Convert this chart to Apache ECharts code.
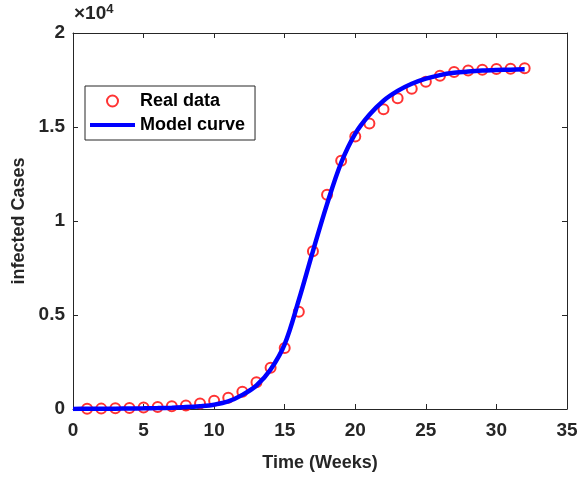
<!DOCTYPE html>
<html>
<head>
<meta charset="utf-8">
<script src="https://cdn.jsdelivr.net/npm/echarts@6/dist/echarts.min.js"></script>
<style>
  html, body { margin: 0; padding: 0; background: #fff; }
  #chart { width: 583px; height: 477px; }
</style>
</head>
<body>
<div id="chart"></div>
<script>
// observed weekly cases
const weeks = [1, 2, 3, 4, 5, 6, 7, 8, 9, 10, 11, 12, 13, 14, 15, 16,
  17, 18, 19, 20, 21, 22, 23, 24, 25, 26, 27, 28, 29, 30, 31, 32]
const realCases = [10, 20, 35, 55, 80, 110, 150, 190, 290, 440, 600, 915,
  1425, 2200, 3250, 5170, 8390, 11400, 13210, 14500, 15180, 15940, 16530,
  17030, 17410, 17730, 17930, 18010, 18050, 18080, 18100, 18120]

// fitted model curve, read at each week
const modelWeeks = [0, 1, 2, 3, 4, 5, 6, 7, 8, 9, 10, 11, 12, 13, 14, 15, 16,
  17, 18, 19, 20, 21, 22, 23, 24, 25, 26, 27, 28, 29, 30, 31, 32]
const modelCases = [5, 8, 12, 18, 25, 35, 50, 70, 100, 150, 230, 400, 750,
  1250, 2100, 3450, 5800, 8400, 10900, 13100, 14650, 15650, 16400, 16920,
  17300, 17570, 17760, 17880, 17950, 18000, 18030, 18050, 18070]

const xTicks = [0, 5, 10, 15, 20, 25, 30, 35]
const yTicks = [0, 0.5, 1, 1.5, 2]   // in units of 10^4

const axisColor = '#262626'
const fontFamily = '"Liberation Sans", Arial, sans-serif'

const chart = echarts.init(document.getElementById('chart'))

const frameAxis = {
  axisLine: { show: true, onZero: false, lineStyle: { color: axisColor, width: 1 } },
  axisTick: { show: true, inside: true, length: 5, lineStyle: { color: axisColor } },
  splitLine: { show: false }
}

const option = {
  animation: false,
  textStyle: { fontFamily },
  grid: { left: 73, right: 16, top: 33, bottom: 65 },
  legend: {
    left: 85,
    top: 86,
    orient: 'vertical',
    padding: [6, 10, 6, 5],
    itemGap: 6,
    itemWidth: 45,
    itemHeight: 11,
    borderColor: axisColor,
    borderWidth: 1,
    backgroundColor: '#fff',
    textStyle: { fontSize: 18, fontWeight: 'bold', color: '#000', fontFamily },
    data: [
      { name: 'Real data' },
      { name: 'Model curve', icon: 'path://M0,0h0.01v0.01h-0.01z M0,3.5h45v4h-45z M0,11h0.01v-0.01h-0.01z' }
    ]
  },
  xAxis: [
    {
      type: 'value',
      min: xTicks[0],
      max: xTicks[xTicks.length - 1],
      interval: 5,
      name: 'Time (Weeks)',
      nameLocation: 'middle',
      nameGap: 45,
      nameTextStyle: { fontSize: 18, fontWeight: 'bold', color: axisColor },
      axisLabel: { fontSize: 19, fontWeight: 'bold', color: axisColor, margin: 12 },
      ...frameAxis
    },
    {
      type: 'value',
      position: 'top',
      min: xTicks[0],
      max: xTicks[xTicks.length - 1],
      interval: 5,
      axisLabel: { show: false },
      ...frameAxis
    }
  ],
  yAxis: [
    {
      type: 'value',
      min: 0,
      max: yTicks[yTicks.length - 1] * 10000,
      interval: 5000,
      name: 'infected Cases',
      nameLocation: 'middle',
      nameGap: 44,
      nameTextStyle: { fontSize: 18, fontWeight: 'bold', color: axisColor },
      axisLabel: {
        fontSize: 19, fontWeight: 'bold', color: axisColor, margin: 8,
        formatter: v => String(v / 10000)
      },
      ...frameAxis
    },
    {
      type: 'value',
      position: 'right',
      min: 0,
      max: yTicks[yTicks.length - 1] * 10000,
      interval: 5000,
      axisLabel: { show: false },
      ...frameAxis
    }
  ],
  graphic: [
    {
      type: 'text',
      left: 74,
      top: 3,
      style: {
        text: '×10{sup|4}',
        fontSize: 19,
        fontWeight: 'bold',
        fill: axisColor,
        fontFamily,
        rich: {
          sup: { fontSize: 13, fontWeight: 'bold', verticalAlign: 'top', padding: [0, 0, 9, 0], fontFamily }
        }
      }
    }
  ],
  series: [
    {
      name: 'Real data',
      type: 'scatter',
      symbol: 'circle',
      symbolSize: 10,
      itemStyle: { color: 'rgba(255,255,255,0)', borderColor: '#ff0000', borderWidth: 2 },
      z: 2,
      data: weeks.map((w, i) => [w, realCases[i]])
    },
    {
      name: 'Model curve',
      type: 'line',
      symbol: 'none',
      smooth: 0.35,
      lineStyle: { color: '#0000ff', width: 4.5 },
      itemStyle: { color: '#0000ff' },
      z: 3,
      data: modelWeeks.map((w, i) => [w, modelCases[i]])
    }
  ]
}

chart.setOption(option)
</script>
</body>
</html>
